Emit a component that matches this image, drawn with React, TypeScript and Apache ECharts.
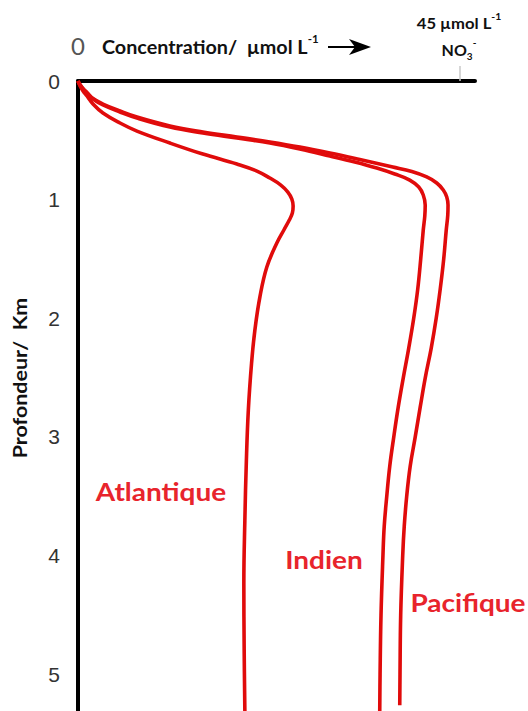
import React, { useEffect, useRef } from "react";
import * as echarts from "echarts";

// Concentration (µmol/L NO3-) vs depth (km)
const atlantiqueConc = [0, 0.24, 0.59, 1.06, 1.77, 2.94, 4.95, 6.95, 10.84, 14.72, 18.73, 21.09, 22.62, 23.91, 24.74, 25.21, 25.36, 25.27, 24.91, 24.27, 23.44, 22.26, 21.44, 20.85, 20.46, 20.08, 19.85, 19.67, 19.55, 19.59, 19.67];
const atlantiqueDepth = [0, 0.042, 0.084, 0.126, 0.194, 0.27, 0.354, 0.422, 0.523, 0.616, 0.7, 0.759, 0.818, 0.877, 0.936, 0.995, 1.054, 1.113, 1.172, 1.256, 1.366, 1.568, 1.821, 2.1, 2.378, 2.774, 3.196, 3.702, 4.233, 4.798, 5.312];

const indienConc = [0, 0.24, 0.59, 1.06, 1.77, 2.94, 4.95, 6.95, 10.84, 14.72, 18.73, 22.62, 26.15, 29.69, 32.63, 35.22, 37.34, 39.11, 40.17, 40.7, 40.93, 40.88, 40.7, 40.4, 40.05, 39.58, 38.99, 38.34, 37.75, 37.22, 36.75, 36.4, 36.1, 35.95, 35.72, 35.61, 35.57];
const indienDepth = [0, 0.034, 0.067, 0.101, 0.152, 0.202, 0.261, 0.312, 0.388, 0.438, 0.481, 0.523, 0.573, 0.632, 0.683, 0.734, 0.784, 0.835, 0.894, 0.961, 1.046, 1.138, 1.256, 1.501, 1.754, 1.998, 2.251, 2.504, 2.749, 3.002, 3.247, 3.499, 3.752, 3.997, 4.503, 5.0, 5.312];

const pacifiqueConc = [0, 0.24, 0.59, 1.06, 1.77, 2.94, 4.95, 6.95, 10.84, 14.72, 18.73, 22.62, 26.15, 29.69, 33.22, 37.11, 39.35, 41.11, 42.29, 43.06, 43.47, 43.62, 43.59, 43.41, 43.11, 42.7, 42.23, 41.64, 40.93, 40.34, 39.75, 39.16, 38.75, 38.46, 38.28, 38.04, 37.96, 37.93];
const pacifiqueDepth = [0, 0.03, 0.063, 0.097, 0.148, 0.194, 0.253, 0.304, 0.379, 0.43, 0.472, 0.514, 0.557, 0.607, 0.662, 0.725, 0.763, 0.809, 0.86, 0.919, 0.978, 1.046, 1.13, 1.256, 1.501, 1.754, 1.998, 2.251, 2.504, 2.749, 3.002, 3.247, 3.499, 3.752, 3.997, 4.503, 5.0, 5.261];

const seriesNames = ["Atlantique", "Indien", "Pacifique"];
const depthTicks = [0, 1, 2, 3, 4, 5];
const concMax = 46.8;
const depthMax = 5.31;
const concMarker = 45;

const RED_LINE = "#e00b0b";
const RED_TEXT = "#e8242c";

function pairs(xs: number[], ys: number[]) {
  return xs.map((x, i) => [x, ys[i]]);
}

export default function App() {
  const ref = useRef<HTMLDivElement>(null);
  useEffect(() => {
    if (!ref.current) return;
    const chart = echarts.init(ref.current, undefined, { renderer: "svg" });
    const lineSeries = (name: string, data: number[][]) => ({
      name,
      type: "line",
      data,
      smooth: 0.4,
      showSymbol: false,
      symbol: "none",
      lineStyle: { color: RED_LINE, width: 3.6 },
      z: 3,
    });
    const seriesLabel = (text: string, x: number, y: number) => ({
      type: "text",
      x,
      y,
      scaleX: 1.12,
      style: {
        text,
        fontFamily: "Lato",
        fontWeight: "bold",
        fontSize: 25,
        fill: RED_TEXT,
        align: "center",
        verticalAlign: "middle",
      },
    });
    chart.setOption({
      animation: false,
      backgroundColor: "#ffffff",
      grid: { left: 78, top: 81, right: 53, bottom: 0 },
      xAxis: {
        type: "value",
        position: "top",
        min: 0,
        max: concMax,
        splitLine: { show: false },
        axisLine: { show: true, lineStyle: { color: "#000", width: 4 } },
        axisTick: {
          show: true,
          customValues: [concMarker],
          length: 15,
          lineStyle: { color: "#c8c8c8", width: 1.5 },
        },
        axisLabel: {
          show: true,
          customValues: [0],
          margin: 24,
          fontSize: 24,
          fontFamily: "Lato",
          color: "#555",
        },
      },
      yAxis: {
        type: "value",
        inverse: true,
        min: 0,
        max: depthMax,
        interval: 1,
        splitLine: { show: false },
        axisLine: { show: true, lineStyle: { color: "#000", width: 4 } },
        axisTick: { show: false },
        axisLabel: {
          show: true,
          customValues: depthTicks,
          margin: 18,
          fontSize: 21,
          fontFamily: "Liberation Sans",
          color: "#333",
        },
      },
      series: [
        lineSeries(seriesNames[0], pairs(atlantiqueConc, atlantiqueDepth)),
        lineSeries(seriesNames[1], pairs(indienConc, indienDepth)),
        lineSeries(seriesNames[2], pairs(pacifiqueConc, pacifiqueDepth)),
      ],
      graphic: [
        {
          type: "text",
          x: 102,
          y: 47,
          scaleX: 1.04,
          style: {
            text: "{m|Concentration/  µmol L}{s|-1}",
            verticalAlign: "middle",
            rich: {
              m: { fontFamily: "Lato", fontWeight: "bold", fontSize: 19, fill: "#111", lineHeight: 27 },
              s: { fontFamily: "Lato", fontWeight: "bold", fontSize: 11, fill: "#111", verticalAlign: "top" },
            },
          },
        },
        {
          type: "line",
          shape: { x1: 328, y1: 47, x2: 356, y2: 47 },
          style: { stroke: "#000", lineWidth: 2 },
        },
        {
          type: "polygon",
          shape: { points: [[349, 39], [371, 47], [349, 55], [355, 47]] },
          style: { fill: "#000" },
        },
        {
          type: "text",
          x: 459,
          y: 23,
          scaleX: 1.04,
          style: {
            text: "{m|45 µmol L}{s|-1}",
            align: "center",
            verticalAlign: "middle",
            rich: {
              m: { fontFamily: "Lato", fontWeight: "bold", fontSize: 16, fill: "#111", lineHeight: 24 },
              s: { fontFamily: "Lato", fontWeight: "bold", fontSize: 10, fill: "#111", verticalAlign: "top" },
            },
          },
        },
        {
          type: "text",
          x: 459,
          y: 49,
          style: {
            text: "{m|NO}{b|3}{s|-}",
            align: "center",
            verticalAlign: "middle",
            rich: {
              m: { fontFamily: "Lato", fontWeight: "bold", fontSize: 16, fill: "#111", lineHeight: 24 },
              b: { fontFamily: "Lato", fontWeight: "bold", fontSize: 10, fill: "#111", verticalAlign: "bottom" },
              s: { fontFamily: "Lato", fontWeight: "bold", fontSize: 10, fill: "#111", verticalAlign: "top" },
            },
          },
        },
        {
          type: "text",
          x: 20,
          y: 378,
          rotation: Math.PI / 2,
          scaleX: 1.13,
          style: {
            text: "Profondeur/  Km",
            fontFamily: "Lato",
            fontWeight: "bold",
            fontSize: 19,
            fill: "#111",
            align: "center",
            verticalAlign: "middle",
          },
        },
        seriesLabel(seriesNames[0], 161, 492),
        seriesLabel(seriesNames[1], 324, 560),
        seriesLabel(seriesNames[2], 468, 603),
      ],
    });
    return () => chart.dispose();
  }, []);
  return (
    <div
      ref={ref}
      style={{ position: "fixed", left: 0, top: 0, width: 528, height: 711 }}
    />
  );
}
